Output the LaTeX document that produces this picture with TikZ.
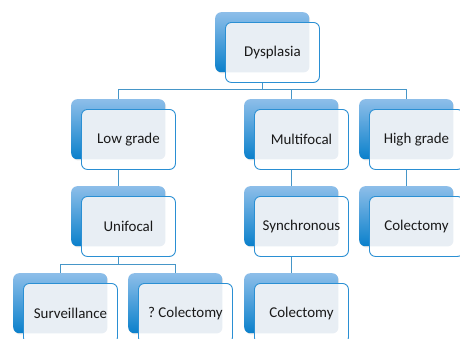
\documentclass[tikz,border=0pt]{standalone}
\usepackage{fontspec}
\setmainfont{Carlito}
\usepackage{tikz}
\usetikzlibrary{positioning,backgrounds,shadows}
\definecolor{backtop}{RGB}{141,190,233}
\definecolor{backmid}{RGB}{96,164,220}
\definecolor{backbot}{RGB}{10,128,203}
\definecolor{frontline}{RGB}{42,143,211}
\definecolor{overlap}{RGB}{232,238,244}
\definecolor{connline}{RGB}{70,150,200}
\definecolor{txt}{RGB}{25,25,25}
\frenchspacing

\begin{document}
\begin{tikzpicture}[x=1bp,y=-1bp,
  backbox/.style={rectangle,rounded corners=6bp,anchor=north west,inner sep=0pt,
    minimum width=94bp,minimum height=60bp,
    top color=backtop,middle color=backmid,bottom color=backbot,
    drop shadow={opacity=0.2,shadow xshift=0.8bp,shadow yshift=-1.2bp}},
  frontbox/.style={rectangle,rounded corners=6bp,anchor=north west,inner sep=2pt,
    minimum width=94bp,minimum height=60bp,draw=frontline,line width=0.9bp,fill=white,
    text=txt,font=\fontsize{15}{18}\selectfont,
    path picture={\fill[overlap,rounded corners=6bp]
      ([shift={(-10,-10)}]path picture bounding box.north west) rectangle
      ([shift={(-10,-10)}]path picture bounding box.south east);}},
  conn/.style={draw=connline,line width=0.9bp}]
\useasboundingbox (0,0) rectangle (460,338);
\clip (0,0) rectangle (460,338);
% back box at (x,y), text box shifted by 10
\foreach \nm/\x/\y/\txt in {dys/215/12/Dysplasia, low/71/99/{Low grade},
    mul/244/99/Multifocal, hig/359/99/{High grade}, uni/71/186/Unifocal,
    syn/244/186/Synchronous, colh/359/186/Colectomy, sur/13/273/Surveillance,
    qcol/128/273/{? Colectomy}, cols/244/273/Colectomy}{
  \node[backbox] (\nm-b) at (\x,\y) {};
  \node[frontbox] (\nm) at (\x+10,\y+10) {\txt};
}
\begin{scope}[on background layer]
\draw[conn] (dys-b.south) -- ++(0,17.5) -| (low-b.north);
\draw[conn] (dys-b.south) -- ++(0,17.5) -| (mul-b.north);
\draw[conn] (dys-b.south) -- ++(0,17.5) -| (hig-b.north);
\draw[conn] (low-b.south) -- (uni-b.north);
\draw[conn] (mul-b.south) -- (syn-b.north);
\draw[conn] (hig-b.south) -- (colh-b.north);
\draw[conn] (uni-b.south) -- ++(0,18) -| (sur-b.north);
\draw[conn] (uni-b.south) -- ++(0,18) -| (qcol-b.north);
\draw[conn] (syn-b.south) -- (cols-b.north);
\end{scope}
\end{tikzpicture}
\end{document}
